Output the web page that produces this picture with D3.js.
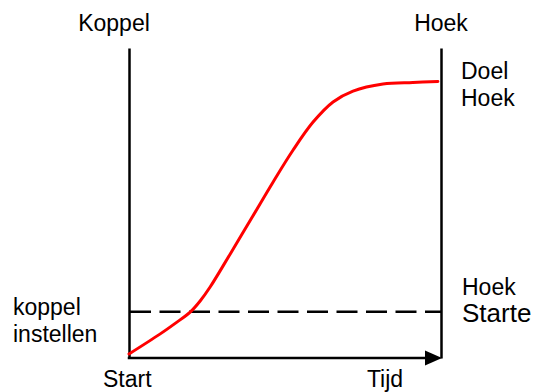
<!DOCTYPE html>
<html>
<head>
<meta charset="utf-8">
<script src="https://cdn.jsdelivr.net/npm/d3@7"></script>
<style>
  body { margin: 0; background: #fff; }
  text { font-family: "Liberation Sans", Arial, Helvetica, sans-serif; fill: #000; }
</style>
</head>
<body>
<div id="chart"></div>
<script>
// red angle curve: time (0-100) vs angle (0-100)
var timeValues  = [0, 9.9, 14.7, 19.6, 22.8, 26.0, 32.4, 39.7, 46.2, 52.6, 59.0, 65.4, 71.8, 81.4, 91.0, 99.0];
var angleValues = [1.3, 7.7, 11.1, 14.8, 18.4, 22.9, 33.5, 45.8, 56.8, 67.1, 76.1, 82.6, 86.1, 88.4, 88.9, 89.2];
var torqueSetLevel = [14.9]; // dashed "koppel instellen" line

var leftTitle = "Koppel",
    rightTitle = "Hoek",
    xStartLabel = "Start",
    xEndLabel = "Tijd",
    leftLevelLabel = ["koppel", "instellen"],
    rightTopLabel = ["Doel", "Hoek"],
    rightLevelLabel = ["Hoek", "Starte"];

var width = 533, height = 392;
var margin = { top: 48, right: 92, bottom: 34, left: 129 };

var x = d3.scaleLinear()
    .domain([0, 100])
    .range([margin.left, width - margin.right]);

var y = d3.scaleLinear()
    .domain([0, 100])
    .range([height - margin.bottom, margin.top]);

var svg = d3.select("#chart").append("svg")
    .attr("width", width)
    .attr("height", height)
    .style("display", "block");

svg.append("rect")
    .attr("width", width)
    .attr("height", height)
    .attr("fill", "#fff");

// dashed torque level
svg.selectAll(".level")
    .data(torqueSetLevel)
    .enter().append("line")
    .attr("class", "level")
    .attr("x1", x(0) + 1)
    .attr("x2", x(100))
    .attr("y1", d => y(d))
    .attr("y2", d => y(d))
    .attr("stroke", "#000")
    .attr("stroke-width", 2.5)
    .attr("stroke-dasharray", "21,8.5");

// vertical axes (no ticks)
svg.append("g")
    .attr("transform", "translate(" + x(0) + ",0)")
    .call(d3.axisLeft(y).tickValues([]).tickSizeOuter(0))
    .select(".domain").attr("stroke-width", 2.5);

svg.append("g")
    .attr("transform", "translate(" + x(100) + ",0)")
    .call(d3.axisRight(y).tickValues([]).tickSizeOuter(0))
    .select(".domain").attr("stroke-width", 2.5);

// time axis with arrow
svg.append("line")
    .attr("x1", x(0) - 1.25)
    .attr("x2", x(100) - 14)
    .attr("y1", y(0))
    .attr("y2", y(0))
    .attr("stroke", "#000")
    .attr("stroke-width", 2.5);

svg.append("path")
    .attr("d", "M" + (x(100) + 1) + "," + y(0) +
               "L" + (x(100) - 16) + "," + (y(0) - 7.5) +
               "L" + (x(100) - 16) + "," + (y(0) + 7.5) + "Z")
    .attr("fill", "#000");

// angle curve
var line = d3.line()
    .curve(d3.curveCatmullRom.alpha(0.5))
    .x(function (d, i) { return x(timeValues[i]); })
    .y(function (d) { return y(d); });

svg.append("path")
    .datum(angleValues)
    .attr("d", line)
    .attr("fill", "none")
    .attr("stroke", "#ff0000")
    .attr("stroke-width", 3)
    .attr("stroke-linecap", "round");

// labels
function addLines(lines, xPos, yPos, anchor, size) {
    lines.forEach(function (t, i) {
        svg.append("text")
            .attr("x", xPos)
            .attr("y", yPos + i * 27)
            .attr("text-anchor", anchor)
            .style("font-size", (Array.isArray(size) ? size[i] : size) + "px")
            .text(t);
    });
}

addLines([leftTitle], 114, 31, "middle", 23);
addLines([rightTitle], x(100), 31, "middle", 23);
addLines(rightTopLabel, 461, 79, "start", 23);
addLines(leftLevelLabel, 13, 315, "start", 23);
addLines(rightLevelLabel, 462, 295, "start", [23, 26]);
addLines([xStartLabel], 103, 387, "start", 23);
addLines([xEndLabel], 385, 387, "middle", 23);
</script>
</body>
</html>
